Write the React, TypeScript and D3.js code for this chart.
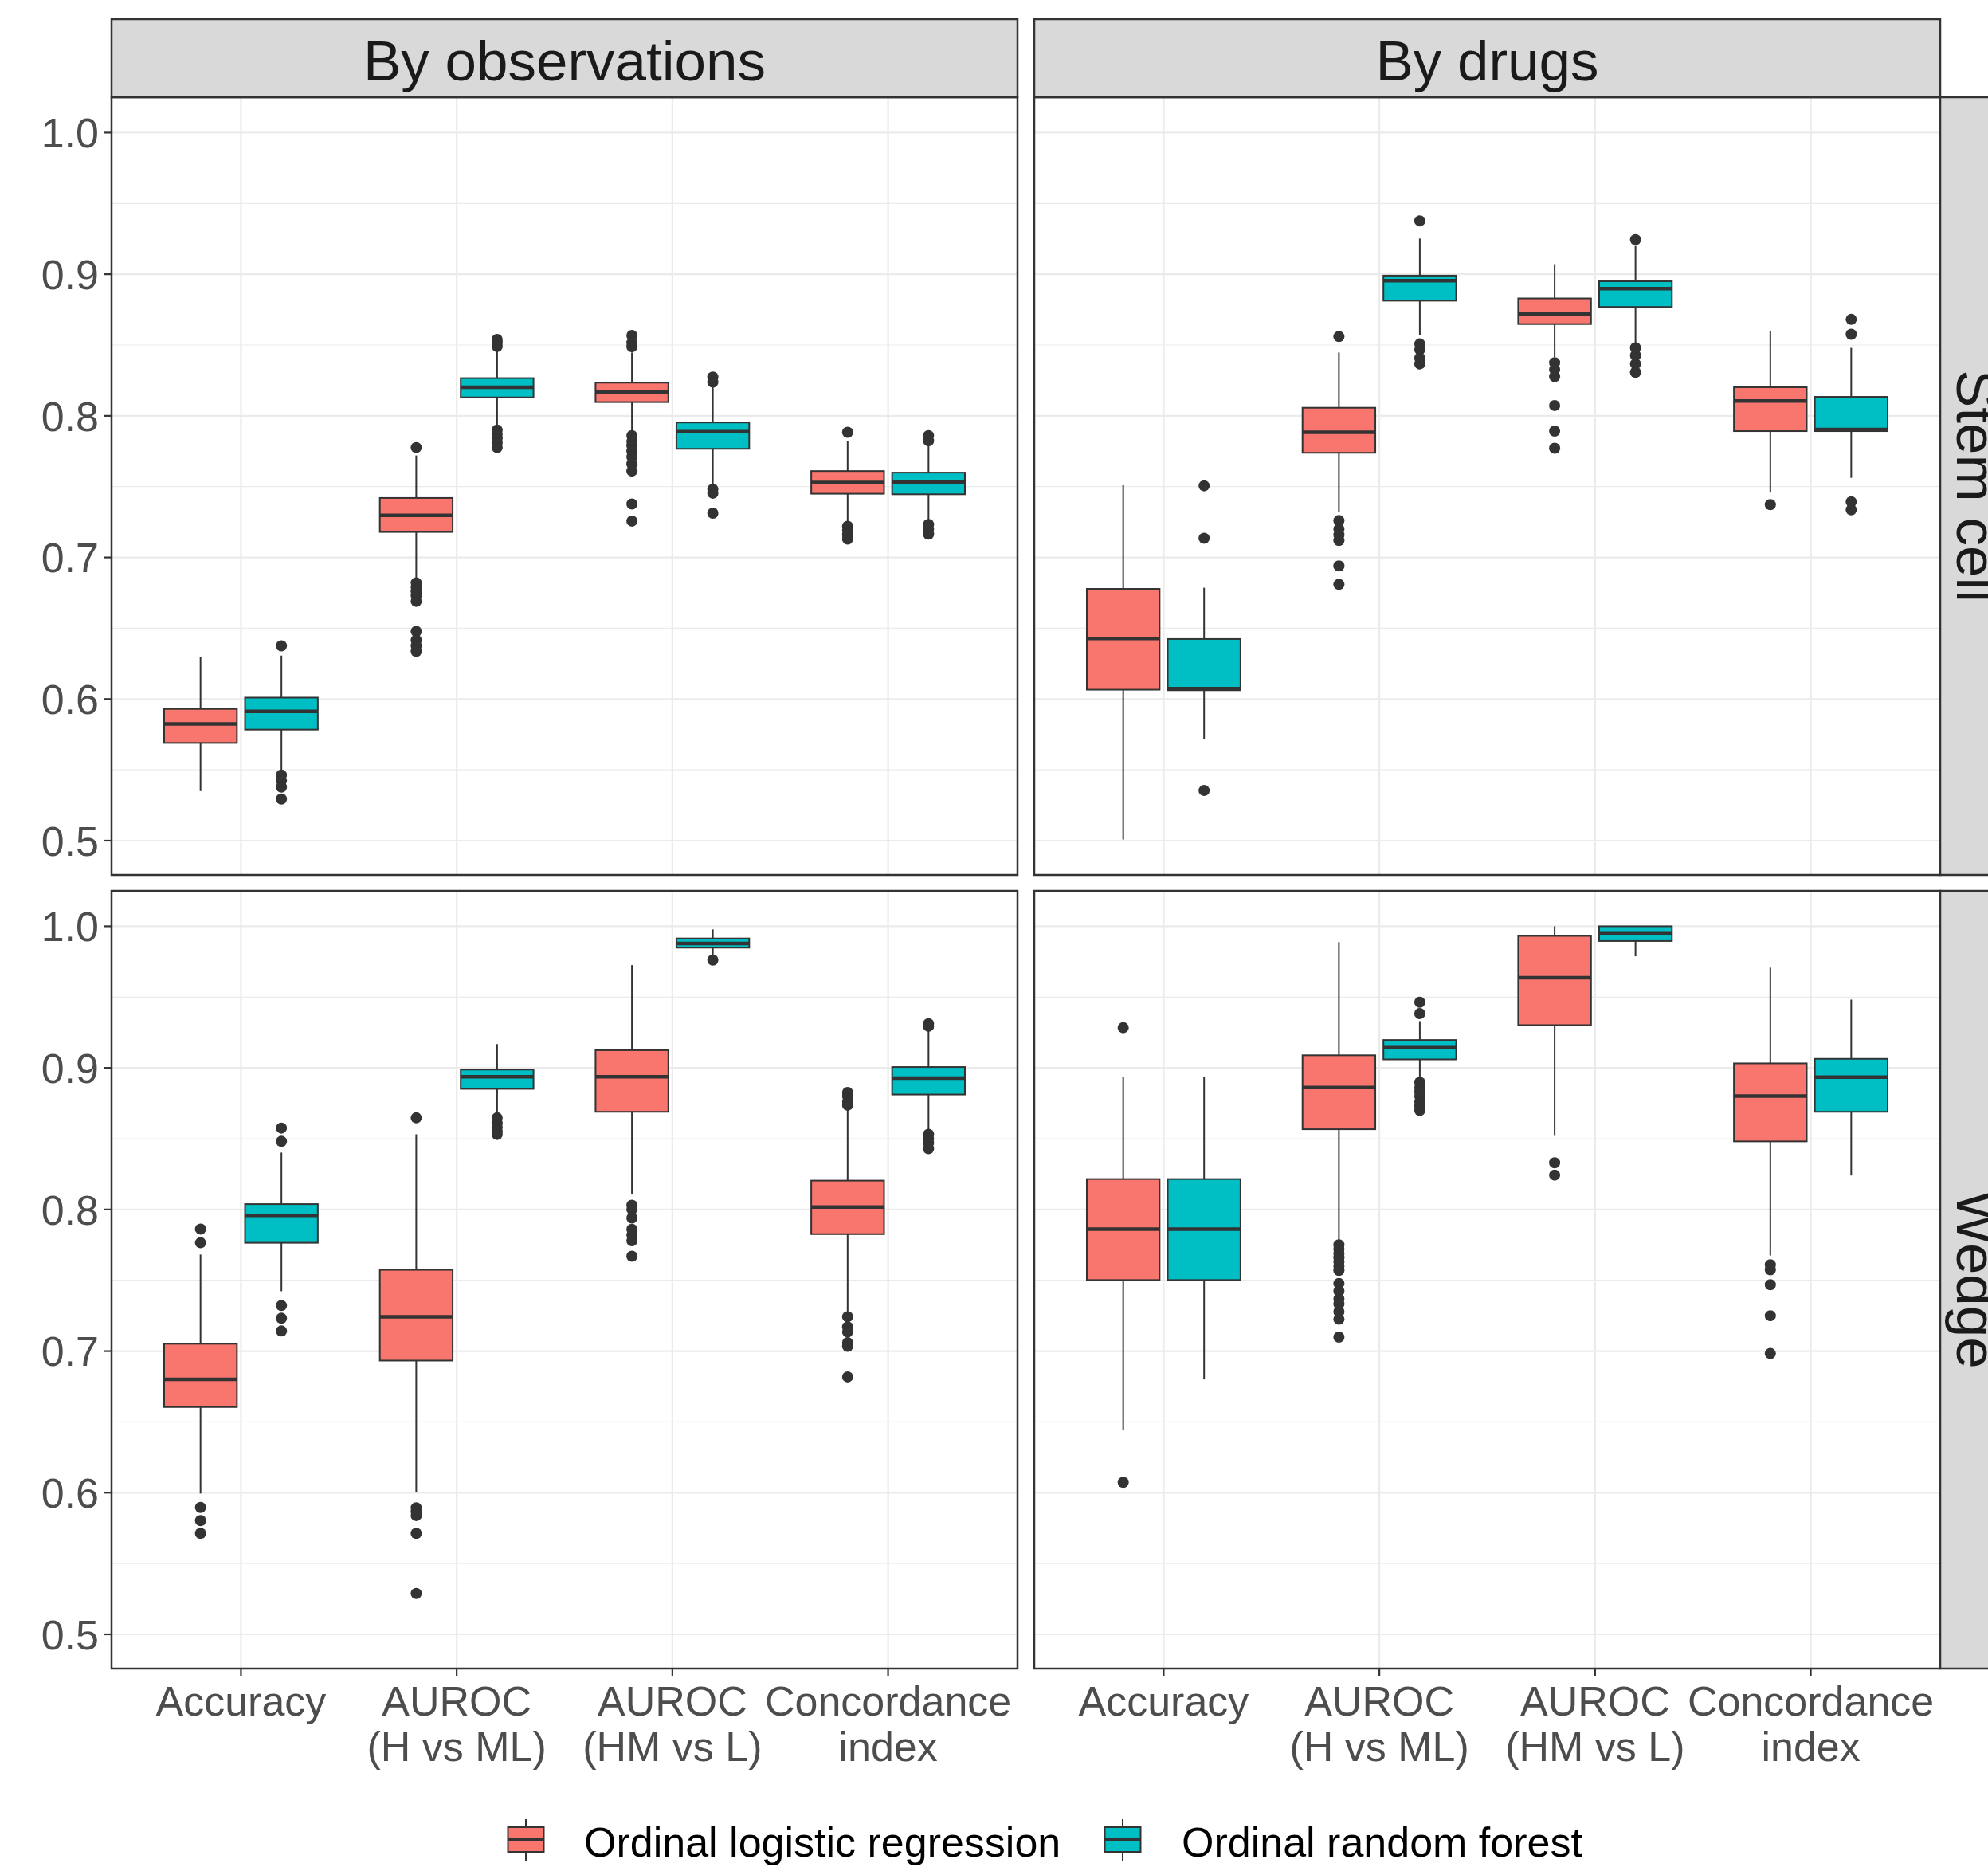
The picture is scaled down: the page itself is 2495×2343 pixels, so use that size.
import React from 'react';
import * as d3 from 'd3';

// categories / facets
const metrics = ['Accuracy', 'AUROC\n(H vs ML)', 'AUROC\n(HM vs L)', 'Concordance\nindex'];
const models = ['Ordinal logistic regression', 'Ordinal random forest'];
const modelColors = ['#F8766D', '#00BFC4'];
const columns = ['By observations', 'By drugs'];
const rows = ['Stem cell', 'Wedge'];
const yTicks = [0.5, 0.6, 0.7, 0.8, 0.9, 1.0];
const yMinor = [0.55, 0.65, 0.75, 0.85, 0.95];

// box stats per metric: [whisker low, q1, median, q3, whisker high]
const stemObsOLR = [
  [0.535, 0.569, 0.5825, 0.593, 0.6295],
  [0.684, 0.718, 0.7297, 0.742, 0.772],
  [0.788, 0.8097, 0.817, 0.8234, 0.8447],
  [0.724, 0.745, 0.753, 0.761, 0.782],
];
const stemObsOLROut = [
  [],
  [0.7776, 0.682, 0.679, 0.676, 0.673, 0.669, 0.6478, 0.6415, 0.6376, 0.6336],
  [0.8568, 0.8516, 0.8488, 0.786, 0.782, 0.779, 0.775, 0.771, 0.766, 0.761, 0.7377, 0.7257],
  [0.7884, 0.722, 0.719, 0.716, 0.713],
];
const stemObsORF = [
  [0.548, 0.5784, 0.5913, 0.601, 0.6307],
  [0.7924, 0.813, 0.8202, 0.8266, 0.8467],
  [0.7502, 0.7767, 0.7888, 0.7953, 0.8206],
  [0.7249, 0.7446, 0.7534, 0.7599, 0.7804],
];
const stemObsORFOut = [
  [0.6376, 0.5463, 0.5423, 0.5378, 0.5294],
  [0.854, 0.8516, 0.849, 0.79, 0.787, 0.784, 0.781, 0.7776],
  [0.8274, 0.8238, 0.7482, 0.7454, 0.7313],
  [0.786, 0.7824, 0.7233, 0.72, 0.7165],
];

const stemDrugOLR = [
  [0.5008, 0.6066, 0.6428, 0.6778, 0.751],
  [0.7321, 0.7739, 0.7884, 0.8057, 0.8447],
  [0.8415, 0.8648, 0.872, 0.8829, 0.9071],
  [0.7458, 0.7892, 0.8105, 0.8202, 0.8596],
];
const stemDrugOLROut = [
  [],
  [0.856, 0.726, 0.72, 0.716, 0.712, 0.694, 0.681],
  [0.8375, 0.8327, 0.8278, 0.8073, 0.7892, 0.7771],
  [0.7373],
];
const stemDrugORF = [
  [0.572, 0.6062, 0.6074, 0.6424, 0.6786],
  [0.8568, 0.8813, 0.8954, 0.899, 0.9252],
  [0.8508, 0.8769, 0.8898, 0.895, 0.92],
  [0.7562, 0.7892, 0.7904, 0.8134, 0.848],
];
const stemDrugORFOut = [
  [0.7506, 0.7136, 0.5354],
  [0.9377, 0.8508, 0.8467, 0.8407, 0.8367],
  [0.9244, 0.848, 0.8427, 0.8367, 0.8307],
  [0.8681, 0.8576, 0.7393, 0.7337],
];

const wedgeObsOLR = [
  [0.5994, 0.6605, 0.68, 0.7052, 0.7682],
  [0.6001, 0.6933, 0.7243, 0.7574, 0.8531],
  [0.8107, 0.869, 0.8938, 0.9125, 0.9726],
  [0.7279, 0.7826, 0.8017, 0.8204, 0.8718],
];
const wedgeObsOLROut = [
  [0.7862, 0.7765, 0.5896, 0.5803, 0.5713],
  [0.8647, 0.5893, 0.5866, 0.5839, 0.5713, 0.5288],
  [0.803, 0.8, 0.794, 0.786, 0.782, 0.778, 0.767],
  [0.8826, 0.88, 0.876, 0.8737, 0.7243, 0.7171, 0.7135, 0.706, 0.7034, 0.6818],
];
const wedgeObsORF = [
  [0.7423, 0.7765, 0.7959, 0.8038, 0.8402],
  [0.8664, 0.8852, 0.8938, 0.8988, 0.9168],
  [0.98, 0.9849, 0.9878, 0.9914, 0.9978],
  [0.8546, 0.8812, 0.8927, 0.9006, 0.9276],
];
const wedgeObsORFOut = [
  [0.8575, 0.8481, 0.7322, 0.7232, 0.7142],
  [0.8647, 0.861, 0.858, 0.855, 0.853],
  [0.9762],
  [0.9312, 0.9294, 0.8531, 0.85, 0.847, 0.843],
];

const wedgeDrugOLR = [
  [0.644, 0.7502, 0.7862, 0.8215, 0.8934],
  [0.7783, 0.8567, 0.8862, 0.9089, 0.9888],
  [0.852, 0.9302, 0.9636, 0.9932, 1.0],
  [0.7675, 0.8481, 0.8801, 0.9032, 0.9708],
];
const wedgeDrugOLROut = [
  [0.9284, 0.6073],
  [0.775, 0.772, 0.769, 0.766, 0.763, 0.76, 0.757, 0.7477, 0.7423, 0.7369, 0.7333, 0.7279, 0.7225, 0.7099],
  [0.833, 0.8243],
  [0.761, 0.7574, 0.7469, 0.725, 0.6983],
];
const wedgeDrugORF = [
  [0.68, 0.7502, 0.7862, 0.8215, 0.8934],
  [0.8916, 0.906, 0.9143, 0.9197, 0.933],
  [0.9788, 0.9896, 0.9953, 1.0, 1.0],
  [0.824, 0.869, 0.8934, 0.9064, 0.9482],
];
const wedgeDrugORFOut = [
  [],
  [0.9464, 0.9384, 0.8898, 0.886, 0.883, 0.88, 0.876, 0.873, 0.87],
  [],
  [],
];

// panels[row][col] = [[stats, outliers] per model]
const panels = [
  [
    [[stemObsOLR, stemObsOLROut], [stemObsORF, stemObsORFOut]],
    [[stemDrugOLR, stemDrugOLROut], [stemDrugORF, stemDrugORFOut]],
  ],
  [
    [[wedgeObsOLR, wedgeObsOLROut], [wedgeObsORF, wedgeObsORFOut]],
    [[wedgeDrugOLR, wedgeDrugOLROut], [wedgeDrugORF, wedgeDrugORFOut]],
  ],
];

const W = 2495;
const H = 2343;
const font = 'Liberation Sans, Arial, sans-serif';
const dark = '#333333';

// layout
const panelX = [140, 1298];
const panelW = 1137;
const panelY = [122, 1118];
const panelH = 976;
const stripH = 98;
const stripTop = 24;

const Panel = ({ r, c }) => {
  const x0 = panelX[c];
  const y0 = panelY[r];
  const x = d3.scalePoint().domain(metrics).range([x0, x0 + panelW]).padding(0.6);
  const y = d3.scaleLinear().domain([0.4758, 1.025]).range([y0 + panelH, y0]);
  const step = x.step();
  const boxW = 0.3375 * step;
  const dodge = [-0.1875 * step, 0.1875 * step];

  return (
    <g>
      <rect x={x0} y={y0} width={panelW} height={panelH} fill="#fff" />
      {yMinor.map(v => (
        <line key={'mn' + v} x1={x0} x2={x0 + panelW} y1={y(v)} y2={y(v)} stroke="#EBEBEB" strokeWidth={1.2} />
      ))}
      {yTicks.map(v => (
        <line key={'mj' + v} x1={x0} x2={x0 + panelW} y1={y(v)} y2={y(v)} stroke="#EBEBEB" strokeWidth={2.2} />
      ))}
      {metrics.map(m => (
        <line key={'vx' + m} x1={x(m)} x2={x(m)} y1={y0} y2={y0 + panelH} stroke="#EBEBEB" strokeWidth={2.2} />
      ))}
      {panels[r][c].map(([stats, outs], k) =>
        metrics.map((m, i) => {
          const cx = x(m) + dodge[k];
          const [lo, q1, med, q3, hi] = stats[i];
          return (
            <g key={k + '-' + i}>
              <line x1={cx} x2={cx} y1={y(hi)} y2={y(q3)} stroke={dark} strokeWidth={2} />
              <line x1={cx} x2={cx} y1={y(q1)} y2={y(lo)} stroke={dark} strokeWidth={2} />
              <rect x={cx - boxW / 2} y={y(q3)} width={boxW} height={y(q1) - y(q3)}
                fill={modelColors[k]} stroke={dark} strokeWidth={2} />
              <line x1={cx - boxW / 2} x2={cx + boxW / 2} y1={y(med)} y2={y(med)} stroke={dark} strokeWidth={4.5} />
              {outs[i].map((o, j) => (
                <circle key={j} cx={cx} cy={y(o)} r={7} fill={dark} />
              ))}
            </g>
          );
        })
      )}
      <rect x={x0} y={y0} width={panelW} height={panelH} fill="none" stroke={dark} strokeWidth={2.5} />
      {c === 0 && yTicks.map(v => (
        <g key={'yt' + v}>
          <line x1={x0 - 9} x2={x0} y1={y(v)} y2={y(v)} stroke={dark} strokeWidth={2.2} />
          <text x={x0 - 16} y={y(v)} dy="0.36em" textAnchor="end" fontSize={52} fill="#4D4D4D" fontFamily={font}>
            {v.toFixed(1)}
          </text>
        </g>
      ))}
      {r === 1 && metrics.map(m => (
        <g key={'xt' + m}>
          <line x1={x(m)} x2={x(m)} y1={y0 + panelH} y2={y0 + panelH + 9} stroke={dark} strokeWidth={2.2} />
          {m.split('\n').map((line, li) => (
            <text key={li} x={x(m)} y={2153 + li * 57} textAnchor="middle" fontSize={52} fill="#4D4D4D" fontFamily={font}>
              {line}
            </text>
          ))}
        </g>
      ))}
    </g>
  );
};

const App = () => {
  return (
    <div style={{ position: 'absolute', left: 0, top: 0 }}>
      <svg width={W} height={H} style={{ display: 'block', background: '#fff' }}>
        <rect width={W} height={H} fill="#fff" />
        {rows.map((rn, r) => columns.map((cn, c) => <Panel key={r + '-' + c} r={r} c={c} />))}
        {/* top strips */}
        {columns.map((cn, c) => (
          <g key={'cs' + c}>
            <rect x={panelX[c]} y={stripTop} width={panelW} height={stripH} fill="#D9D9D9" stroke={dark} strokeWidth={2.5} />
            <text x={panelX[c] + panelW / 2} y={stripTop + 77} textAnchor="middle" fontSize={71} fill="#1A1A1A" fontFamily={font}>
              {cn}
            </text>
          </g>
        ))}
        {/* right strips, cut by the picture edge as in the original */}
        {rows.map((rn, r) => (
          <g key={'rs' + r}>
            <rect x={panelX[1] + panelW} y={panelY[r]} width={stripH} height={panelH} fill="#D9D9D9" stroke={dark} strokeWidth={2.5} />
            <text transform={`translate(${panelX[1] + panelW + 21},${panelY[r] + panelH / 2}) rotate(90)`}
              textAnchor="middle" fontSize={71} fill="#1A1A1A" fontFamily={font}>
              {rn}
            </text>
          </g>
        ))}
        {/* legend */}
        {models.map((m, k) => {
          const kx = [660, 1409][k];
          const tx = [733, 1483][k];
          return (
            <g key={'lg' + k}>
              <line x1={kx} x2={kx} y1={2283} y2={2335} stroke={dark} strokeWidth={2} />
              <rect x={kx - 22.5} y={2293} width={45} height={31} fill={modelColors[k]} stroke={dark} strokeWidth={2} />
              <line x1={kx - 22.5} x2={kx + 22.5} y1={2308.5} y2={2308.5} stroke={dark} strokeWidth={3} />
              <text x={tx} y={2330} fontSize={52} fill="#000" fontFamily={font}>{m}</text>
            </g>
          );
        })}
      </svg>
    </div>
  );
};

export default App;
